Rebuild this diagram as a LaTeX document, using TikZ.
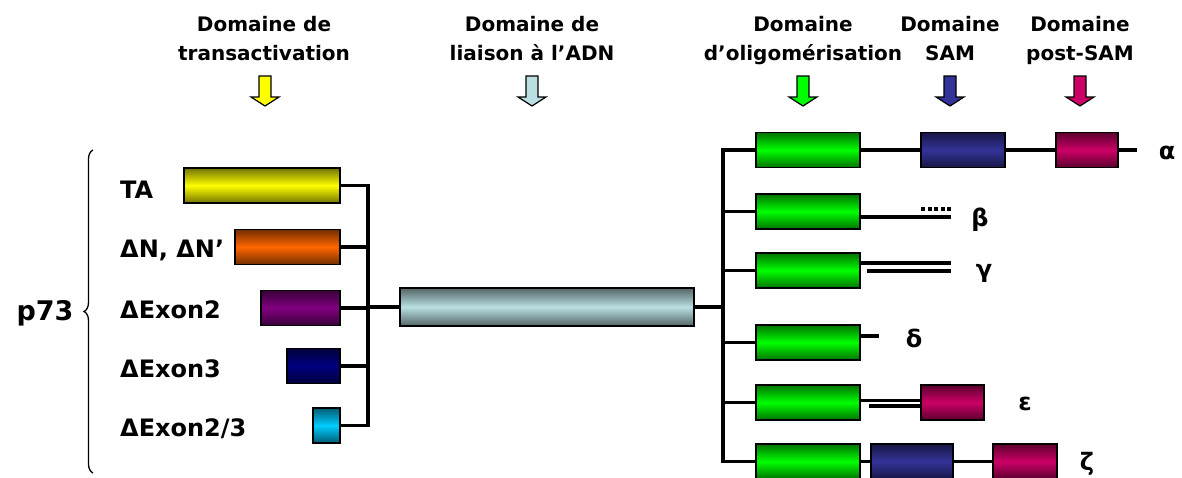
\documentclass[tikz,border=0pt]{standalone}
\usepackage{fontspec}
\setmainfont{DejaVu Sans}
\usetikzlibrary{decorations.pathreplacing}

\definecolor{jaune}{HTML}{FFFF00}
\definecolor{orange}{HTML}{FF6600}
\definecolor{violet}{HTML}{800080}
\definecolor{marine}{HTML}{000080}
\definecolor{cyan}{HTML}{00CCFF}
\definecolor{bleuclair}{HTML}{B9DFE2}
\definecolor{vert}{HTML}{00FF00}
\definecolor{bleusam}{HTML}{333399}
\definecolor{magenta}{HTML}{CC0066}

\begin{document}
\begin{tikzpicture}[x=1pt,y=-1pt]
\tikzset{domaine/.style =
	{draw,
		line width = 1.8pt,
		inner sep = 0pt,
		minimum height = 35pt,
		anchor = west,
		top color = #1!45!black,
		bottom color = #1!45!black,
		middle color = #1},
	lien/.style = {line width = 3.5pt},
	titre/.style = {font = \bfseries\fontsize{20}{29}\selectfont,
		align = center, inner sep = 0pt, anchor = north},
	forme/.style = {font = \bfseries\fontsize{24}{28}\selectfont,
		inner sep = 0pt, anchor = base west},
	grec/.style = {font = \bfseries\fontsize{24}{28}\selectfont, inner sep = 0pt},
	fleche/.style = {draw, line width = 1.2pt, line join = miter}}
\clip (0,0) rectangle (1182,477);

% titres et fleches
\node[titre] (ttrans) at (264,16) {Domaine de\\transactivation};
\node[titre] (tadn)   at (532,16) {Domaine de\\liaison à l’ADN};
\node[titre] (toligo) at (803,16) {Domaine\\d’oligomérisation};
\node[titre] (tsam)   at (950,16) {Domaine\\SAM};
\node[titre] (tpost)  at (1080,16) {Domaine\\post-SAM};
\foreach \x/\c in {265/jaune,532/bleuclair,803/vert,950/bleusam,1080/magenta}
	\draw[fleche, fill=\c] ({\x-6},76) -- ({\x+6},76) -- ({\x+6},97) -- ({\x+14},97)
		-- (\x,106) -- ({\x-14},97) -- ({\x-6},97) -- cycle;

% p73 et ses formes
\node[font=\bfseries\fontsize{27}{30}\selectfont, inner sep=0pt, anchor=base] (p73) at (45,320) {p73};
\draw[line width=1.3pt, decorate, decoration={brace, amplitude=9pt}] (93,473) -- (93,150);
\node[forme] (lta)   at (120,198) {TA};
\node[forme] (ldn)   at (120,257) {ΔN, ΔN’};
\node[forme] (lde2)  at (120,318) {ΔExon2};
\node[forme] (lde3)  at (120,377) {ΔExon3};
\node[forme] (lde23) at (120,436) {ΔExon2/3};
\node[domaine=jaune,  minimum width=156pt] (ta)   at (183,185.5) {};
\node[domaine=orange, minimum width=105pt] (dn)   at (234,247) {};
\node[domaine=violet, minimum width=79pt]  (de2)  at (260,308) {};
\node[domaine=marine, minimum width=53pt]  (de3)  at (286,366) {};
\node[domaine=cyan,   minimum width=27pt]  (de23) at (312,425.5) {};

% domaine de liaison
\node[domaine=bleuclair, minimum width=294pt, minimum height=38pt] (dbd) at (399,307) {};
\coordinate (cg) at (368,307);
\coordinate (cd) at (723,307);
\draw[lien] (ta.east) -| (cg) |- (de23.east);
\foreach \n in {dn,de2,de3}
	\draw[lien] (cg) |- (\n.east);
\draw[lien] (cg) -- (dbd.west);
\draw[lien] (dbd.east) -- (cd);

% isoformes C-terminales
\node[domaine=vert, minimum width=104pt] (oa) at (755,150) {};
\node[domaine=vert, minimum width=104pt] (ob) at (755,211.5) {};
\node[domaine=vert, minimum width=104pt] (oc) at (755,270.5) {};
\node[domaine=vert, minimum width=104pt] (od) at (755,342.5) {};
\node[domaine=vert, minimum width=104pt] (oe) at (755,402.5) {};
\node[domaine=vert, minimum width=104pt] (oz) at (755,461.5) {};
\node[domaine=bleusam, minimum width=84pt] (sa) at (920,150) {};
\node[domaine=magenta, minimum width=62pt] (pa) at (1055,150) {};
\node[domaine=magenta, minimum width=63pt] (pe) at (920,402.5) {};
\node[domaine=bleusam, minimum width=82pt] (sz) at (870,461.5) {};
\node[domaine=magenta, minimum width=64pt] (pz) at (992,461.5) {};
\draw[lien] (oa.west) -| (cd) |- (oz.west);
\foreach \n in {ob,oc,od,oe}
	\draw[lien] (cd) |- (\n.west);

\coordinate (fa) at (1137,150);
\coordinate (fb) at (951,217);
\coordinate (fc) at (951,267);
\coordinate (fd) at (879,336);
\draw[lien] (oa.east) -- (sa.west);
\draw[lien] (sa.east) -- (pa.west);
\draw[lien] (pa.east) -- (fa);
\draw[lien] (ob.east |- fb) -- (fb);
\draw[lien, dash pattern=on 4pt off 2.5pt] ([yshift=8pt]fb) -- ++(-32,0);
\draw[lien] ([yshift=4pt]fc) -- ++(-92,0);
\draw[lien] ([yshift=-4pt]fc) -- ++(-84,0);
\draw[lien] (od.east |- fd) -- (fd);
\draw[lien] ([yshift=2pt]pe.west) -- ++(-61,0);
\draw[lien] ([yshift=-3.5pt]pe.west) -- ++(-51,0);
\draw[lien] (oz.east) -- (sz.west);
\draw[lien] (sz.east) -- (pz.west);

\node[grec] (alpha)   at (1167,153) {α};
\node[grec] (beta)    at (980,220) {β};
\node[grec] (gamma)   at (984,273) {γ};
\node[grec] (delta)   at (914,338) {δ};
\node[grec] (epsilon) at (1025,404) {ε};
\node[grec] (zeta)    at (1087,464) {ζ};

\end{tikzpicture}
\end{document}
